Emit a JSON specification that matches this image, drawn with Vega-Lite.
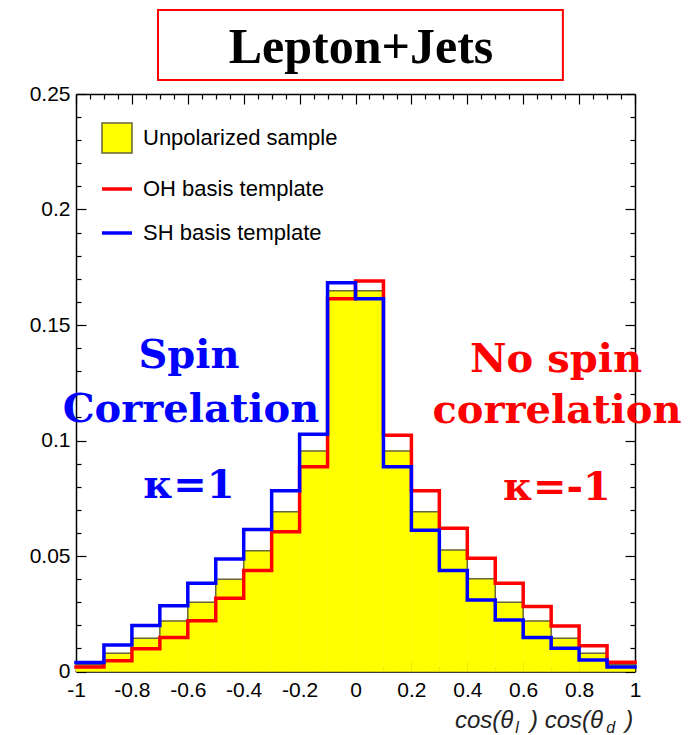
{
  "$schema": "https://vega.github.io/schema/vega-lite/v6.json",
  "width": 559,
  "height": 577.5,
  "autosize": "none",
  "padding": {"left": 76, "top": 94, "right": 55, "bottom": 63.5},
  "background": "white",
  "config": {
    "view": {"stroke": null},
    "axis": {"grid": false, "tickColor": "black", "domainColor": "black", "domainWidth": 1.5, "labelFont": "Liberation Sans", "labelFontSize": 21, "labelColor": "black", "zindex": 1}
  },
  "data": {
    "values": [
      {"lo": -1.0, "hi": -0.9, "unpol": 0.0029, "oh": 0.0019, "sh": 0.0039},
      {"lo": -0.9, "hi": -0.8, "unpol": 0.0079, "oh": 0.0046, "sh": 0.0115},
      {"lo": -0.8, "hi": -0.7, "unpol": 0.0144, "oh": 0.0098, "sh": 0.0199},
      {"lo": -0.7, "hi": -0.6, "unpol": 0.0219, "oh": 0.0147, "sh": 0.0285},
      {"lo": -0.6, "hi": -0.5, "unpol": 0.0300, "oh": 0.0220, "sh": 0.0382},
      {"lo": -0.5, "hi": -0.4, "unpol": 0.0399, "oh": 0.0317, "sh": 0.0487},
      {"lo": -0.4, "hi": -0.3, "unpol": 0.0523, "oh": 0.0437, "sh": 0.0615},
      {"lo": -0.3, "hi": -0.2, "unpol": 0.0692, "oh": 0.0605, "sh": 0.0782},
      {"lo": -0.2, "hi": -0.1, "unpol": 0.0955, "oh": 0.0886, "sh": 0.1027},
      {"lo": -0.1, "hi": 0.0, "unpol": 0.1648, "oh": 0.1614, "sh": 0.1683},
      {"lo": 0.0, "hi": 0.1, "unpol": 0.1648, "oh": 0.1690, "sh": 0.1614},
      {"lo": 0.1, "hi": 0.2, "unpol": 0.0955, "oh": 0.1023, "sh": 0.0886},
      {"lo": 0.2, "hi": 0.3, "unpol": 0.0692, "oh": 0.0782, "sh": 0.0612},
      {"lo": 0.3, "hi": 0.4, "unpol": 0.0526, "oh": 0.0620, "sh": 0.0437},
      {"lo": 0.4, "hi": 0.5, "unpol": 0.0401, "oh": 0.0490, "sh": 0.0310},
      {"lo": 0.5, "hi": 0.6, "unpol": 0.0300, "oh": 0.0382, "sh": 0.0223},
      {"lo": 0.6, "hi": 0.7, "unpol": 0.0219, "oh": 0.0281, "sh": 0.0147},
      {"lo": 0.7, "hi": 0.8, "unpol": 0.0144, "oh": 0.0197, "sh": 0.0101},
      {"lo": 0.8, "hi": 0.9, "unpol": 0.0079, "oh": 0.0112, "sh": 0.0050},
      {"lo": 0.9, "hi": 1.0, "unpol": 0.0029, "oh": 0.0040, "sh": 0.0019}
    ]
  },
  "resolve": {"axis": {"x": "independent", "y": "independent"}, "scale": {"x": "shared", "y": "shared"}},
  "layer": [
    {
      "mark": {"type": "rect", "fill": "#ffff00", "stroke": "#ffff00", "strokeWidth": 0.5, "clip": false},
      "encoding": {
        "x": {"field": "lo", "type": "quantitative", "scale": {"domain": [-1, 1], "nice": false, "zero": false},
          "axis": {"orient": "bottom", "title": null, "domain": true, "values": [-1, -0.8, -0.6, -0.4, -0.2, 0, 0.2, 0.4, 0.6, 0.8, 1], "tickSize": -10, "tickWidth": 1.2, "labelPadding": 18, "labelExpr": "'' + datum.value", "labelFlush": false, "labelOverlap": false}},
        "x2": {"field": "hi"},
        "y": {"field": "unpol", "type": "quantitative", "scale": {"domain": [0, 0.25], "nice": false, "zero": false},
          "axis": {"orient": "left", "title": null, "domain": true, "values": [0, 0.05, 0.1, 0.15, 0.2, 0.25], "tickSize": -10, "tickWidth": 1.2, "labelPadding": 16, "labelExpr": "'' + datum.value", "labelFlush": false, "labelOverlap": false}},
        "y2": {"datum": 0}
      }
    },
    {
      "transform": [
        {"fold": ["unpol", "oh", "sh"], "as": ["series", "val"]},
        {"fold": ["lo", "hi"], "as": ["edge", "xe"]}
      ],
      "mark": {"type": "line", "clip": false, "strokeJoin": "miter", "strokeCap": "square"},
      "encoding": {
        "x": {"field": "xe", "type": "quantitative", "scale": {"domain": [-1, 1], "nice": false, "zero": false},
          "axis": {"orient": "bottom", "title": null, "domain": false, "labels": false, "values": [-0.95, -0.9, -0.85, -0.75, -0.7, -0.65, -0.55, -0.5, -0.45, -0.35, -0.3, -0.25, -0.15, -0.1, -0.05, 0.05, 0.1, 0.15, 0.25, 0.3, 0.35, 0.45, 0.5, 0.55, 0.65, 0.7, 0.75, 0.85, 0.9, 0.95], "tickSize": -5, "tickWidth": 1.2}},
        "y": {"field": "val", "type": "quantitative", "scale": {"domain": [0, 0.25], "nice": false, "zero": false},
          "axis": {"orient": "left", "title": null, "domain": false, "labels": false, "values": [0.01, 0.02, 0.03, 0.04, 0.06, 0.07, 0.08, 0.09, 0.11, 0.12, 0.13, 0.14, 0.16, 0.17, 0.18, 0.19, 0.21, 0.22, 0.23, 0.24], "tickSize": -5, "tickWidth": 1.2}},
        "color": {"field": "series", "type": "nominal",
          "scale": {"domain": ["unpol", "oh", "sh"], "range": ["#66663a", "#ff0000", "#0000ff"]},
          "legend": {
            "orient": "none", "legendX": 24, "legendY": 28, "title": null, "padding": 0,
            "labelFont": "Liberation Sans", "labelFontSize": 22, "labelColor": "black", "labelOffset": 9, "labelLimit": 0,
            "symbolSize": 900, "rowPadding": 16,
            "labelExpr": "datum.value == 'unpol' ? 'Unpolarized sample' : datum.value == 'oh' ? 'OH basis template' : 'SH basis template'",
            "encode": {
              "symbols": {
                "update": {
                  "shape": {"signal": "datum.value == 'unpol' ? 'square' : 'stroke'"},
                  "fill": {"signal": "datum.value == 'unpol' ? '#ffff00' : 'transparent'"},
                  "stroke": {"signal": "datum.value == 'unpol' ? '#66663a' : datum.value == 'oh' ? '#ff0000' : '#0000ff'"},
                  "strokeWidth": {"signal": "datum.value == 'unpol' ? 1.2 : 3.5"}
                }
              }
            }
          }
        },
        "strokeWidth": {"field": "series", "type": "nominal", "scale": {"type": "ordinal", "domain": ["unpol", "oh", "sh"], "range": [1.5, 3.5, 3.5]}, "legend": null},
        "order": [{"field": "lo", "type": "quantitative"}, {"field": "edge", "type": "nominal", "sort": "descending"}]
      }
    },
    {
      "data": {"values": [{}]},
      "mark": {"type": "rect", "fill": "white", "stroke": "#ff0000", "strokeWidth": 2, "clip": false},
      "encoding": {
        "x": {"datum": -0.7066, "type": "quantitative", "scale": {"domain": [-1, 1], "nice": false, "zero": false},
          "axis": {"orient": "top", "title": null, "domain": true, "labels": false, "values": [-1, -0.8, -0.6, -0.4, -0.2, 0, 0.2, 0.4, 0.6, 0.8, 1], "tickSize": -10, "tickWidth": 1.2}},
        "x2": {"datum": 0.742},
        "y": {"datum": 0.2864, "type": "quantitative", "scale": {"domain": [0, 0.25], "nice": false, "zero": false},
          "axis": {"orient": "right", "title": null, "domain": true, "labels": false, "values": [0, 0.05, 0.1, 0.15, 0.2, 0.25], "tickSize": -10, "tickWidth": 1.2}},
        "y2": {"datum": 0.2561}
      }
    },
    {
      "data": {"values": [{}]},
      "mark": {"type": "text", "text": "Lepton+Jets", "font": "Liberation Serif", "fontWeight": "bold", "fontSize": 50, "color": "black", "align": "center", "baseline": "alphabetic", "clip": false},
      "encoding": {
        "x": {"datum": 0.0197, "type": "quantitative", "scale": {"domain": [-1, 1], "nice": false, "zero": false},
          "axis": {"orient": "top", "title": null, "domain": false, "labels": false, "values": [-0.95, -0.9, -0.85, -0.75, -0.7, -0.65, -0.55, -0.5, -0.45, -0.35, -0.3, -0.25, -0.15, -0.1, -0.05, 0.05, 0.1, 0.15, 0.25, 0.3, 0.35, 0.45, 0.5, 0.55, 0.65, 0.7, 0.75, 0.85, 0.9, 0.95], "tickSize": -5, "tickWidth": 1.2}},
        "y": {"datum": 0.2635, "type": "quantitative", "scale": {"domain": [0, 0.25], "nice": false, "zero": false},
          "axis": {"orient": "right", "title": null, "domain": false, "labels": false, "values": [0.01, 0.02, 0.03, 0.04, 0.06, 0.07, 0.08, 0.09, 0.11, 0.12, 0.13, 0.14, 0.16, 0.17, 0.18, 0.19, 0.21, 0.22, 0.23, 0.24], "tickSize": -5, "tickWidth": 1.2}}
      }
    },
    {
      "data": {"values": [{}]},
      "mark": {"type": "text", "text": "Spin", "font": "DejaVu Serif", "fontWeight": "bold", "fontSize": 40, "color": "#0000ff", "align": "center", "baseline": "alphabetic", "clip": false},
      "encoding": {"x": {"datum": -0.5957, "type": "quantitative", "axis": null}, "y": {"datum": 0.1314, "type": "quantitative", "axis": null}}
    },
    {
      "data": {"values": [{}]},
      "mark": {"type": "text", "text": "Correlation", "font": "DejaVu Serif", "fontWeight": "bold", "fontSize": 40, "color": "#0000ff", "align": "center", "baseline": "alphabetic", "clip": false},
      "encoding": {"x": {"datum": -0.5886, "type": "quantitative", "axis": null}, "y": {"datum": 0.1081, "type": "quantitative", "axis": null}}
    },
    {
      "data": {"values": [{}]},
      "mark": {"type": "text", "text": "κ=1", "font": "DejaVu Serif", "fontWeight": "bold", "fontSize": 40, "color": "#0000ff", "align": "center", "baseline": "alphabetic", "clip": false},
      "encoding": {"x": {"datum": -0.5957, "type": "quantitative", "axis": null}, "y": {"datum": 0.0751, "type": "quantitative", "axis": null}}
    },
    {
      "data": {"values": [{}]},
      "mark": {"type": "text", "text": "No spin", "font": "DejaVu Serif", "fontWeight": "bold", "fontSize": 40, "color": "#ff0000", "align": "center", "baseline": "alphabetic", "clip": false},
      "encoding": {"x": {"datum": 0.7174, "type": "quantitative", "axis": null}, "y": {"datum": 0.1298, "type": "quantitative", "axis": null}}
    },
    {
      "data": {"values": [{}]},
      "mark": {"type": "text", "text": "correlation", "font": "DejaVu Serif", "fontWeight": "bold", "fontSize": 40, "color": "#ff0000", "align": "center", "baseline": "alphabetic", "clip": false},
      "encoding": {"x": {"datum": 0.7209, "type": "quantitative", "axis": null}, "y": {"datum": 0.1076, "type": "quantitative", "axis": null}}
    },
    {
      "data": {"values": [{}]},
      "mark": {"type": "text", "text": "κ=-1", "font": "DejaVu Serif", "fontWeight": "bold", "fontSize": 40, "color": "#ff0000", "align": "center", "baseline": "alphabetic", "clip": false},
      "encoding": {"x": {"datum": 0.7209, "type": "quantitative", "axis": null}, "y": {"datum": 0.0742, "type": "quantitative", "axis": null}}
    },
    {
      "data": {"values": [{}]},
      "mark": {"type": "text", "text": "cos(θ", "font": "Liberation Sans", "fontStyle": "italic", "fontSize": 24, "color": "#222222", "align": "left", "baseline": "alphabetic", "clip": false},
      "encoding": {"x": {"datum": 0.356, "type": "quantitative", "axis": null}, "y": {"datum": -0.0245, "type": "quantitative", "axis": null}}
    },
    {
      "data": {"values": [{}]},
      "mark": {"type": "text", "text": "l", "font": "Liberation Sans", "fontStyle": "italic", "fontSize": 16, "color": "#222222", "align": "left", "baseline": "alphabetic", "clip": false},
      "encoding": {"x": {"datum": 0.572, "type": "quantitative", "axis": null}, "y": {"datum": -0.0268, "type": "quantitative", "axis": null}}
    },
    {
      "data": {"values": [{}]},
      "mark": {"type": "text", "text": ") cos(θ", "font": "Liberation Sans", "fontStyle": "italic", "fontSize": 24, "color": "#222222", "align": "left", "baseline": "alphabetic", "clip": false},
      "encoding": {"x": {"datum": 0.6245, "type": "quantitative", "axis": null}, "y": {"datum": -0.0245, "type": "quantitative", "axis": null}}
    },
    {
      "data": {"values": [{}]},
      "mark": {"type": "text", "text": "d", "font": "Liberation Sans", "fontStyle": "italic", "fontSize": 16, "color": "#222222", "align": "left", "baseline": "alphabetic", "clip": false},
      "encoding": {"x": {"datum": 0.897, "type": "quantitative", "axis": null}, "y": {"datum": -0.0268, "type": "quantitative", "axis": null}}
    },
    {
      "data": {"values": [{}]},
      "mark": {"type": "text", "text": ")", "font": "Liberation Sans", "fontStyle": "italic", "fontSize": 24, "color": "#222222", "align": "left", "baseline": "alphabetic", "clip": false},
      "encoding": {"x": {"datum": 0.9655, "type": "quantitative", "axis": null}, "y": {"datum": -0.0245, "type": "quantitative", "axis": null}}
    }
  ]
}
